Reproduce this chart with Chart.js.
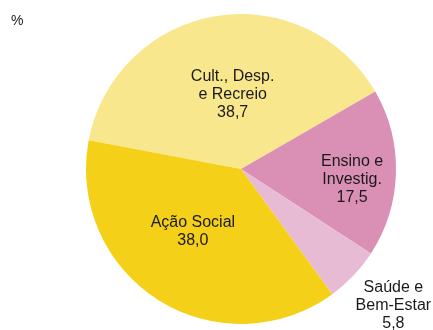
<!DOCTYPE html>
<html>
<head>
<meta charset="utf-8">
<script src="https://cdn.jsdelivr.net/npm/chart.js@4"></script>
<style>
  html, body { margin: 0; padding: 0; background: #fff; }
  #wrap { position: relative; width: 433px; height: 330px; }
  #unit { position: absolute; left: 11px; top: 12px; font: 14px "Liberation Sans", Arial, sans-serif; color: #1a1a1a; }
</style>
</head>
<body>
<div id="wrap">
  <canvas id="pieChart" width="433" height="330"></canvas>
  <div id="unit">%</div>
</div>
<script>
// Distribuição por área (%)
const categories = [['Cult., Desp.', 'e Recreio'], ['Ensino e', 'Investig.'], ['Saúde e', 'Bem-Estar'], ['Ação Social']];
const values = [38.7, 17.5, 5.8, 38.0];
const colors = ['#f9e78e', '#da8fb5', '#e8bbd5', '#f5d018'];

// onde cada rótulo fica: fração do raio e desvio do ângulo médio (graus)
const labelPlace = [
  { r: 0.48, da: 3.2 },
  { r: 0.72, da: 3.9 },
  { r: 1.32, da: -1.6 },
  { r: 0.51, da: 5.2 },
];

const sliceLabels = {
  id: 'sliceLabels',
  afterDraw(chart) {
    const ctx = chart.ctx;
    const meta = chart.getDatasetMeta(0);
    ctx.save();
    ctx.font = '16px "Liberation Sans", Arial, sans-serif';
    ctx.fillStyle = '#1a1a1a';
    ctx.textAlign = 'center';
    ctx.textBaseline = 'middle';
    meta.data.forEach((arc, i) => {
      const p = arc.getProps(['x', 'y', 'startAngle', 'endAngle', 'outerRadius'], true);
      const mid = (p.startAngle + p.endAngle) / 2 + labelPlace[i].da * Math.PI / 180;
      const rad = p.outerRadius * labelPlace[i].r;
      const cx = p.x + Math.cos(mid) * rad;
      const cy = p.y + Math.sin(mid) * rad;
      const lines = categories[i].concat([values[i].toFixed(1).replace('.', ',')]);
      const lh = 18;
      const y0 = cy - (lines.length - 1) * lh / 2;
      lines.forEach((t, k) => ctx.fillText(t, cx, y0 + k * lh));
    });
    ctx.restore();
  }
};

new Chart(document.getElementById('pieChart').getContext('2d'), {
  type: 'pie',
  data: {
    labels: categories.map(c => c.join(' ')),
    datasets: [{
      data: values,
      backgroundColor: colors,
      borderWidth: 0,
    }]
  },
  options: {
    responsive: false,
    animation: false,
    rotation: -79.3,
    layout: { padding: { left: 86, right: 37, top: 14, bottom: 6 } },
    plugins: {
      legend: { display: false },
      tooltip: { enabled: false },
    }
  },
  plugins: [sliceLabels]
});
</script>
</body>
</html>
